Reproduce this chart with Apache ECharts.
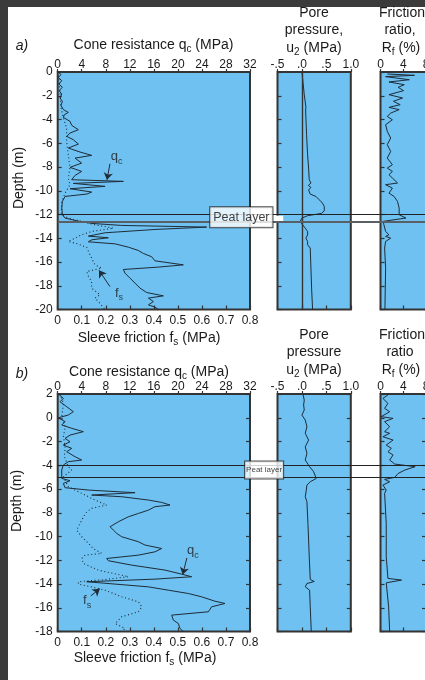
<!DOCTYPE html>
<html><head><meta charset="utf-8">
<script src="https://cdn.jsdelivr.net/npm/echarts@6/dist/echarts.min.js"></script>
<style>
html,body{margin:0;padding:0;background:#3b3b3b;width:425px;height:680px;overflow:hidden}
#paper{position:absolute;left:8px;top:7px;width:417px;height:673px;background:#fff}
#c{position:absolute;left:0;top:0;width:425px;height:680px}
</style></head><body><div id="paper"></div><div id="c"></div>
<script>
// ---------- DATA: [depth (m), value] ----------
// Panel a
const qcA = [[0,0.1],[-0.22,0.55],[-0.45,0.1],[-0.73,0.67],[-1.01,0.22],[-1.29,0.78],[-1.57,0.22],[-1.85,0.67],[-2.19,0.39],[-2.47,0.78],[-2.81,0.55],[-3.17,0.94],[-3.4,1.77],[-3.6,1.1],[-3.82,0.94],[-4.16,2.05],[-4.49,2.33],[-4.86,3.44],[-5.14,2.05],[-5.42,1.5],[-5.7,2.6],[-6.07,3.44],[-6.4,1.77],[-6.74,3.72],[-7.02,5.66],[-7.25,2.88],[-7.67,3.99],[-8.03,2.05],[-8.37,3.99],[-8.71,2.88],[-9.07,2.33],[-9.21,10.93],[-9.38,2.6],[-9.63,7.88],[-9.83,2.05],[-10.11,5.66],[-10.28,4.83],[-10.48,1.22],[-10.9,0.78],[-11.46,0.67],[-12.02,0.78],[-12.3,1.22],[-12.53,3.16],[-12.75,5.66],[-12.92,10.65],[-13.06,24.79],[-13.26,16.19],[-13.54,7.88],[-13.82,5.1],[-13.96,8.43],[-14.13,5.66],[-14.3,5.1],[-14.47,9.54],[-14.75,11.76],[-15.03,13.42],[-15.28,14.25],[-15.56,15.64],[-15.9,16.19],[-16.24,20.91],[-16.43,16.75],[-16.63,10.93],[-16.94,11.2],[-17.36,12.03],[-17.78,12.87],[-18.2,13.7],[-18.57,14.81],[-18.85,17.58],[-19.04,15.09],[-19.33,15.92],[-19.61,15.09],[-19.8,16.19],[-20,16.75]];
const fsA = [[0,0.003],[-0.79,0.006],[-1.91,0.01],[-3.03,0.014],[-3.88,0.024],[-4.72,0.037],[-5.84,0.037],[-6.97,0.044],[-8.09,0.051],[-8.93,0.044],[-9.49,0.051],[-10.2,0.031],[-10.9,0.017],[-12.02,0.017],[-12.3,0.044],[-12.58,0.1],[-12.87,0.155],[-13.15,0.232],[-13.43,0.141],[-13.71,0.1],[-13.99,0.072],[-14.27,0.044],[-14.49,0.086],[-14.78,0.121],[-15.11,0.128],[-15.67,0.141],[-16.24,0.155],[-16.52,0.183],[-16.8,0.121],[-17.22,0.128],[-17.64,0.141],[-18.2,0.141],[-18.76,0.176],[-19.04,0.155],[-19.33,0.169],[-20,0.197]];
const u2A = [[0,0],[-0.79,0.02],[-1.91,0.048],[-2.98,0.082],[-3.09,0.095],[-3.2,0.075],[-5.28,0.095],[-6.97,0.116],[-8.09,0.136],[-9.07,0.15],[-9.35,0.184],[-9.55,0.13],[-9.72,0.184],[-9.94,0.136],[-10.28,0.17],[-10.48,0.286],[-10.76,0.354],[-11.04,0.42],[-11.32,0.457],[-11.69,0.457],[-11.91,0.4],[-12.1,0.116],[-12.3,0],[-12.58,-0.034],[-12.87,0.014],[-13.15,0.068],[-13.43,0.116],[-13.71,0.116],[-13.99,0.082],[-14.27,0.116],[-14.55,0.116],[-14.83,0.17],[-16.52,0.184],[-18.2,0.198],[-20,0.218]];
const rfA = [[-0.17,1.19],[-0.28,5.97],[-0.39,0.9],[-0.65,5.07],[-0.84,1.49],[-1.07,4.18],[-1.29,3.1],[-1.57,4.06],[-1.91,1.49],[-2.19,3.88],[-2.47,2.27],[-2.75,3.46],[-2.98,1.49],[-3.17,3.28],[-3.46,1.79],[-3.74,1.19],[-4.02,2.09],[-4.44,0.9],[-5.0,1.19],[-5.56,1.79],[-6.12,1.19],[-6.69,1.79],[-7.25,1.19],[-7.81,2.09],[-8.09,1.19],[-8.37,2.09],[-8.65,1.49],[-8.93,2.09],[-9.35,2.99],[-9.49,0.9],[-9.78,2.09],[-10.2,1.49],[-10.48,2.39],[-10.9,2.99],[-11.46,3.28],[-12.02,3.28],[-12.3,4.48],[-12.44,2.39],[-12.58,0.48],[-12.87,0.6],[-13.43,0.9],[-13.71,1.49],[-13.85,0.9],[-13.99,1.79],[-14.27,0.9],[-14.83,0.72],[-16.52,0.9],[-18.2,0.84],[-20,0.78]];
// Panel b
const qcB = [[2,0.11],[1.63,0.94],[1.35,0.39],[0.93,1.5],[0.51,2.6],[0.23,1.77],[0.0,0.11],[-0.33,1.22],[-0.61,0.67],[-0.89,2.33],[-1.17,4.27],[-1.46,2.05],[-1.74,1.22],[-2.02,2.05],[-2.3,0.94],[-2.58,2.33],[-2.86,1.5],[-3.28,2.88],[-3.56,3.99],[-3.7,1.77],[-3.98,0.94],[-4.4,0.67],[-5.11,0.67],[-5.3,2.05],[-5.53,0.94],[-5.89,1.22],[-6.09,5.1],[-6.31,12.87],[-6.51,5.66],[-6.65,10.65],[-6.93,15.09],[-7.13,17.3],[-7.35,18.69],[-7.49,16.19],[-7.78,15.09],[-8.06,13.42],[-8.34,11.76],[-8.76,10.09],[-9.18,8.71],[-9.46,9.26],[-9.74,9.82],[-10.02,10.65],[-10.44,13.42],[-10.72,14.53],[-11.01,17.3],[-11.29,16.19],[-11.57,13.42],[-11.85,8.15],[-12.04,8.43],[-12.41,12.31],[-12.83,17.86],[-13.17,20.63],[-13.39,22.29],[-13.59,16.19],[-13.81,4.83],[-13.96,4.55],[-14.24,15.09],[-14.52,18.41],[-14.8,21.74],[-15.08,23.96],[-15.45,26.18],[-15.64,27.84],[-15.92,25.62],[-16.34,25.07],[-16.62,18.97],[-17.04,19.24],[-17.33,20.08],[-17.75,20.35],[-18,20.91]];
const fsB = [[2,0.01],[1.21,0.024],[0.09,0.017],[-0.75,0.031],[-1.6,0.024],[-2.44,0.031],[-3.28,0.028],[-4.12,0.044],[-4.4,0.058],[-4.97,0.024],[-5.81,0.044],[-6.09,0.072],[-6.51,0.114],[-6.93,0.155],[-7.35,0.204],[-7.63,0.141],[-7.92,0.121],[-8.34,0.107],[-8.9,0.093],[-9.46,0.079],[-10.02,0.1],[-10.58,0.128],[-11.01,0.148],[-11.43,0.183],[-11.57,0.114],[-11.85,0.1],[-12.27,0.107],[-12.83,0.169],[-13.39,0.294],[-13.62,0.197],[-13.81,0.086],[-14.01,0.086],[-14.24,0.141],[-14.52,0.197],[-15.08,0.266],[-15.5,0.336],[-15.92,0.35],[-16.34,0.336],[-16.76,0.266],[-17.33,0.239],[-17.75,0.28],[-18,0.266]];
const u2B = [[2,0.02],[1.49,0.048],[1.07,0.034],[0.65,0.048],[0.23,0],[-0.19,0.068],[-0.75,0.102],[-1.31,0.068],[-1.88,0.136],[-2.44,0.068],[-3.0,0.102],[-3.56,0.068],[-4.12,0.157],[-4.54,0.239],[-5.11,0.293],[-5.39,0.17],[-5.67,0.102],[-6.09,0.089],[-6.65,0.068],[-7.07,0.102],[-8.9,0.123],[-11.71,0.15],[-13.62,0.17],[-13.79,0.252],[-13.96,0.102],[-14.24,0.068],[-14.52,0.157],[-15.92,0.17],[-18,0.191]];
const rfB = [[1.92,1.31],[1.63,0.42],[1.21,1.31],[0.79,0.72],[0.51,1.61],[0.09,0.12],[-0.05,2.21],[-0.33,0.72],[-0.75,1.61],[-1.17,0.72],[-1.31,1.61],[-1.6,0.42],[-1.88,2.21],[-2.3,1.01],[-2.58,1.91],[-2.86,1.31],[-3.14,2.21],[-3.56,1.61],[-3.9,2.51],[-4.12,6.09],[-4.26,6.39],[-4.4,4.3],[-4.69,3.1],[-5.02,2.51],[-5.19,0.72],[-5.39,1.61],[-5.67,0.42],[-6.09,1.01],[-6.37,0.72],[-8.9,1.01],[-11.71,1.01],[-13.53,1.31],[-13.67,3.7],[-13.9,1.01],[-15.92,1.43],[-18,1.61]];
// Peat layers [top, bottom] depth (m)
const peatA = [-12.0, -12.6];
const peatB = [-4.0, -5.0];
// Axis ranges
const depthRangeA = [-20, 0];
const depthRangeB = [-18, 2];
const qcRange = [0, 32], fsRange = [0, 0.8], u2Range = [-0.5, 1.0], rfRange = [0, 8];
const u2TickLabels = {'-0.5': '-.5', '0': '.0', '0.5': '.5', '1': '1.0'};

// ---------- STYLE ----------
const FONT = '"Liberation Sans", Arial, Helvetica, sans-serif';
const DARK = '#343434', BLUE = '#6ec1f0', LINE = '#1f2c38', TXT = '#1a1a1a';
const H = 237.5;
const toXY = arr => arr.map(d => [d[1], d[0]]);

const grids = [
  {left: 57.7, top: 72, width: 192.3, height: H, show: true},
  {left: 277.5, top: 72, width: 73.3, height: H, show: true},
  {left: 380.5, top: 72, width: 45.5, height: H, show: true},
  {left: 57.7, top: 72, width: 367.3, height: H, show: false},
  {left: 57.7, top: 394, width: 192.3, height: H, show: true},
  {left: 277.5, top: 394, width: 73.3, height: H, show: true},
  {left: 380.5, top: 394, width: 45.5, height: H, show: true},
  {left: 57.7, top: 394, width: 367.3, height: H, show: false}
].map(g => Object.assign(g, {backgroundColor: g.show ? BLUE : 'transparent', borderColor: DARK,
  borderWidth: g.show ? 2 : 0, containLabel: false, outerBoundsMode: 'none'}));

const lbl = (extra) => Object.assign({fontSize: 12, color: TXT, fontFamily: FONT}, extra);
function xTop(grid, range, interval, fmt) {
  return {type: 'value', gridIndex: grid, position: 'top', min: range[0], max: range[1], interval,
    axisLine: {show: false, onZero: false}, splitLine: {show: false},
    axisTick: {show: true, inside: false, length: 3, lineStyle: {color: DARK, width: 1.2}},
    axisLabel: lbl({margin: 1, formatter: fmt, showMinLabel: true, showMaxLabel: true, hideOverlap: false})};
}
function xBot(grid, range, interval, showLabels, fmt) {
  return {type: 'value', gridIndex: grid, position: 'bottom', min: range[0], max: range[1], interval,
    axisLine: {show: false, onZero: false}, splitLine: {show: false},
    axisTick: {show: true, inside: true, length: 4, lineStyle: {color: DARK, width: 1.2}},
    axisLabel: lbl({show: showLabels, margin: 5, formatter: fmt})};
}
function yAx(grid, range, pos, showLabels, showTicks) {
  return {type: 'value', gridIndex: grid, position: pos, min: range[0], max: range[1], interval: 2,
    axisLine: {show: false, onZero: false}, splitLine: {show: false},
    axisTick: {show: showTicks, inside: true, length: 4, lineStyle: {color: DARK, width: 1.2}},
    axisLabel: lbl({show: showLabels, margin: 5})};
}
const hidden = (grid, type, range) => ({type: 'value', gridIndex: grid, min: range[0], max: range[1], show: false,
  axisLine: {onZero: false}});

const u2Fmt = v => u2TickLabels[String(v)] || '';
const fsFmt = v => v === 0 ? '0' : v.toFixed(1);

const xAxis = [
  xTop(0, qcRange, 4), xBot(0, fsRange, 0.1, true, fsFmt),          // 0,1
  xTop(1, u2Range, 0.5, u2Fmt), xBot(1, u2Range, 0.5, false),      // 2,3
  xTop(2, rfRange, 4), xBot(2, rfRange, 4, false),                  // 4,5
  hidden(3, 'x', [0, 1]),                                            // 6
  xTop(4, qcRange, 4), xBot(4, fsRange, 0.1, true, fsFmt),          // 7,8
  xTop(5, u2Range, 0.5, u2Fmt), xBot(5, u2Range, 0.5, false),      // 9,10
  xTop(6, rfRange, 4), xBot(6, rfRange, 4, false),                  // 11,12
  hidden(7, 'x', [0, 1])                                             // 13
];
const yAxis = [
  yAx(0, depthRangeA, 'left', true, true),   // 0
  yAx(1, depthRangeA, 'left', false, true),  // 1
  yAx(2, depthRangeA, 'left', false, true),  // 2
  hidden(3, 'y', depthRangeA),               // 3
  yAx(4, depthRangeB, 'left', true, true),   // 4
  yAx(5, depthRangeB, 'left', false, true),  // 5
  yAx(6, depthRangeB, 'left', false, true),  // 6
  hidden(7, 'y', depthRangeB),               // 7
  yAx(4, depthRangeB, 'right', false, true), // 8
  yAx(5, depthRangeB, 'right', false, true), // 9
  yAx(6, depthRangeB, 'right', false, true)  // 10
];

function curve(xi, yi, arr, dotted, extra) {
  return Object.assign({type: 'line', xAxisIndex: xi, yAxisIndex: yi, data: toXY(arr), symbol: 'none', showSymbol: false,
    silent: true, z: 3,
    lineStyle: {color: LINE, width: dotted ? 1.1 : 1, type: dotted ? [1, 2.6] : 'solid'}}, extra || {});
}
const arrowML = (from, to) => ({silent: true, symbol: ['none', 'arrow'], symbolSize: 7,
  lineStyle: {color: LINE, width: 1, type: 'solid'}, label: {show: false},
  data: [[{coord: from}, {coord: to}]]});

const richSub = (size) => ({
  m: {fontSize: size, fontFamily: FONT, color: TXT, lineHeight: size + 5},
  s: {fontSize: Math.round(size * 0.68), fontFamily: FONT, color: TXT, lineHeight: size + 5, verticalAlign: 'bottom'}
});
function annot(xi, yi, pt, main, sub) {
  return {type: 'scatter', xAxisIndex: xi, yAxisIndex: yi, symbolSize: 1, silent: true, z: 10,
    itemStyle: {color: 'rgba(0,0,0,0)'}, data: [pt],
    label: {show: true, position: 'inside', formatter: `{m|${main}}{s|${sub}}`, rich: richSub(13)}};
}
function peat(xi, yi, range, lineStyles, patch) {
  return {type: 'scatter', xAxisIndex: xi, yAxisIndex: yi, data: [], silent: true, z: 6,
    markLine: {silent: true, symbol: 'none', label: {show: false},
      data: [{yAxis: range[0], lineStyle: lineStyles[0]}, {yAxis: range[1], lineStyle: lineStyles[1]}]},
    markArea: patch ? {silent: true, itemStyle: {color: '#ffffff'}, data: [[{coord: patch[0]}, {coord: patch[1]}]]} : undefined};
}
function peatBox(xi, yi, pt, size, pad) {
  return {type: 'scatter', xAxisIndex: xi, yAxisIndex: yi, symbolSize: 1, silent: true, z: 12,
    itemStyle: {color: 'rgba(0,0,0,0)'}, data: [pt],
    label: {show: true, position: 'inside', formatter: 'Peat layer', fontSize: size, fontFamily: FONT, color: '#111',
      backgroundColor: '#fff', borderColor: '#222', borderWidth: 1, padding: pad}};
}

const series = [
  // panel a
  curve(1, 0, fsA, true),
  curve(0, 0, qcA, false, {markLine: arrowML([8.7, -7.73], [8.2, -9.08])}),
  annot(0, 0, [9.8, -7.14], 'q', 'c'),
  {type: 'scatter', xAxisIndex: 0, yAxisIndex: 0, data: [], markLine: arrowML([8.7, -18.07], [6.87, -16.7])},
  annot(0, 0, [10.2, -18.65], 'f', 's'),
  curve(2, 1, u2A, false, {markLine: {silent: true, symbol: 'none', label: {show: false},
    lineStyle: {color: DARK, width: 1.4, type: 'solid'}, data: [{xAxis: 0}]}}),
  curve(4, 2, rfA, false),
  peat(6, 3, peatA, [{color: '#222', width: 1.2, type: 'solid'}, {color: '#5a5f66', width: 2, type: 'solid'}],
       [[0.583, -12.1], [0.614, -12.55]]),
  peatBox(6, 3, [0.5, -12.23], 12.5, [4, 3, 3, 3]),
  // panel b
  curve(8, 4, fsB, true),
  curve(7, 4, qcB, false, {markLine: arrowML([21.5, -11.8], [20.8, -13.2])}),
  annot(7, 4, [22.5, -11.2], 'q', 'c'),
  {type: 'scatter', xAxisIndex: 7, yAxisIndex: 4, data: [], markLine: arrowML([5.5, -15.0], [7.0, -14.4])},
  annot(7, 4, [4.9, -15.4], 'f', 's'),
  curve(9, 5, u2B, false),
  curve(11, 6, rfB, false),
  peat(13, 7, peatB, [{color: '#222', width: 1.2, type: 'solid'}, {color: '#222', width: 1.2, type: 'solid'}]),
  peatBox(13, 7, [0.562, -4.39], 8, [5, 1, 4, 1])
];

// ---------- TITLES ----------
const R14 = richSub(14);
function t(x, y, text, extra) {
  const style = Object.assign({text, x: 0, y: 0, fill: TXT, fontSize: 14, fontFamily: FONT,
    align: 'center', verticalAlign: 'middle', textAlign: 'center', textVerticalAlign: 'middle', rich: R14}, extra || {});
  return {type: 'text', x, y, silent: true, style};
}
const graphic = [
  t(22, 46, 'a)', {fontStyle: 'italic'}),
  t(153.5, 45, '{m|Cone resistance q}{s|c}{m| (MPa)}'),
  t(314, 13, 'Pore'), t(314, 30, 'pressure,'), t(314, 48, '{m|u}{s|2}{m| (MPa)}'),
  t(402, 13, 'Friction'), t(400, 30, 'ratio,'), t(401, 48, '{m|R}{s|f}{m| (%)}'),
  t(149, 338, '{m|Sleeve friction f}{s|s}{m| (MPa)}'),
  Object.assign(t(19, 178, 'Depth (m)'), {rotation: Math.PI / 2}),
  t(22, 374, 'b)', {fontStyle: 'italic'}),
  t(149, 372, '{m|Cone resistance q}{s|c}{m| (MPa)}'),
  t(314, 335, 'Pore'), t(314, 352, 'pressure'), t(314, 370, '{m|u}{s|2}{m| (MPa)}'),
  t(402, 335, 'Friction'), t(400, 352, 'ratio'), t(401, 370, '{m|R}{s|f}{m| (%)}'),
  t(145, 658, '{m|Sleeve friction f}{s|s}{m| (MPa)}'),
  Object.assign(t(17, 501, 'Depth (m)'), {rotation: Math.PI / 2})
];

const chart = echarts.init(document.getElementById('c'), null, {renderer: 'canvas'});
chart.setOption({animation: false, backgroundColor: 'transparent', grid: grids, xAxis, yAxis, series, graphic});
</script></body></html>
